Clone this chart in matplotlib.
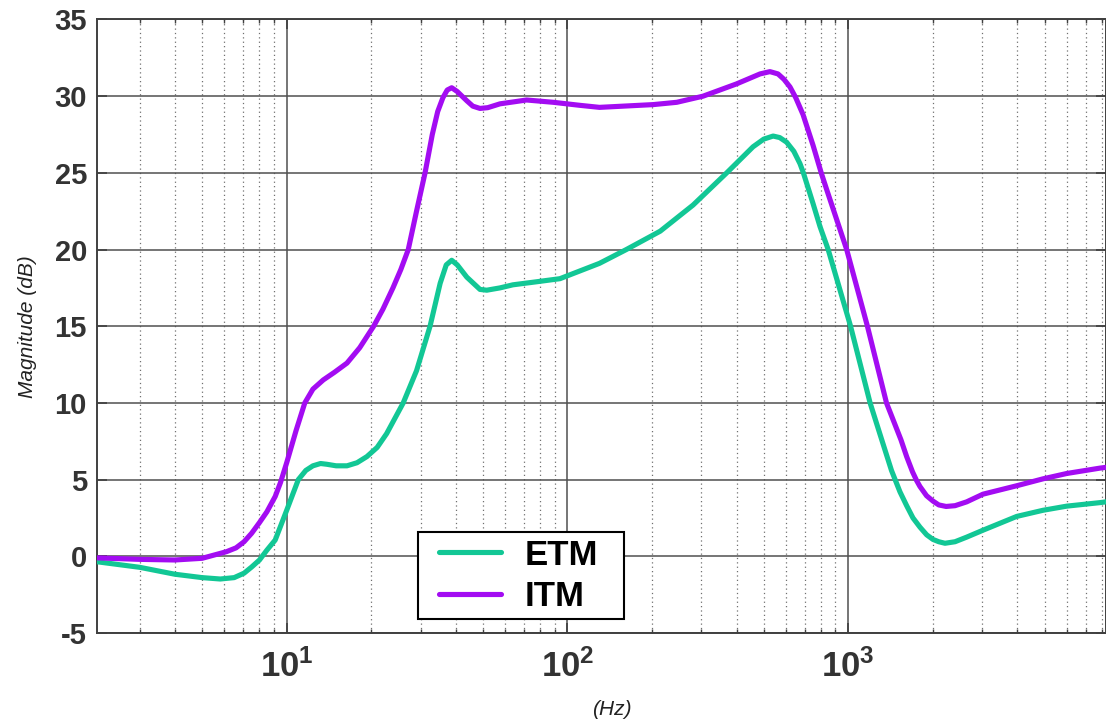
import math

import matplotlib
matplotlib.use("Agg")
from matplotlib import pyplot as plt
from matplotlib import ticker
from matplotlib.patches import Rectangle

# values
etm_freq = [2.1, 3.0, 4.0, 5.0, 5.8, 6.5, 7.05, 7.5, 8.0, 8.5, 9.1, 10.0,
            11.0, 11.7, 12.4, 13.2, 13.9, 15.0, 16.4, 17.8, 19.3, 21.0, 22.7,
            26.0, 29.0, 32.4, 35.2, 37.0, 38.7, 40.5, 43.8, 48.8, 51.6, 57.5,
            63.9, 77.7, 94.0, 130, 162, 214, 280, 369, 458, 500, 540, 570,
            603, 640, 673, 692, 749, 793, 848, 1019, 1196, 1300, 1425, 1528,
            1614, 1700, 1800, 1902, 2003, 2100, 2210, 2400, 2640, 3017, 3979,
            4936, 5996, 7878, 8276]
etm_db = [-0.35, -0.72, -1.17, -1.39, -1.48, -1.39, -1.1, -0.7, -0.24, 0.4,
          1.06, 3.0, 5.0, 5.6, 5.9, 6.05, 6.0, 5.9, 5.9, 6.1, 6.5, 7.1, 8.0,
          10.0, 12.1, 15.0, 17.8, 19.0, 19.3, 19.0, 18.2, 17.4, 17.35, 17.5,
          17.7, 17.9, 18.1, 19.1, 20.0, 21.2, 22.9, 25.0, 26.7, 27.2, 27.4,
          27.3, 27.0, 26.4, 25.6, 25.0, 23.0, 21.5, 20.0, 15.0, 10.0, 7.9,
          5.6, 4.2, 3.3, 2.5, 1.9, 1.4, 1.1, 0.95, 0.85, 0.95, 1.25, 1.7,
          2.6, 3.0, 3.27, 3.5, 3.55]

itm_freq = [2.1, 3.0, 4.0, 5.0, 6.1, 6.6, 7.05, 7.5, 8.0, 8.5, 9.1, 9.5,
            10.0, 10.8, 11.6, 12.4, 13.5, 14.8, 16.4, 18.2, 20.4, 22.0, 23.9,
            25.5, 27.1, 29.0, 31.1, 33.0, 34.5, 36.0, 37.3, 38.7, 40.5, 43.8,
            46.0, 48.8, 52.0, 57.5, 71.5, 89.0, 111, 130, 202, 245, 304, 400,
            485, 526, 562, 590, 620, 650, 690, 749, 801, 838, 987, 1170, 1368,
            1540, 1614, 1694, 1750, 1800, 1900, 2003, 2100, 2230, 2400, 2640,
            3017, 3979, 4936, 6000, 7878, 8276]
itm_db = [-0.1, -0.2, -0.24, -0.13, 0.3, 0.55, 0.95, 1.5, 2.2, 2.9, 3.9,
          4.8, 6.1, 8.2, 10.0, 10.9, 11.5, 12.0, 12.6, 13.6, 15.0, 16.1,
          17.5, 18.7, 20.0, 22.5, 25.0, 27.5, 29.0, 29.9, 30.4, 30.55, 30.3,
          29.7, 29.35, 29.2, 29.25, 29.5, 29.75, 29.6, 29.4, 29.27, 29.45,
          29.6, 30.0, 30.8, 31.45, 31.6, 31.45, 31.1, 30.6, 29.9, 28.8, 26.8,
          25.0, 23.9, 20.0, 15.0, 10.0, 7.6, 6.5, 5.5, 4.95, 4.55, 3.95, 3.6,
          3.35, 3.25, 3.3, 3.55, 4.05, 4.6, 5.05, 5.4, 5.75, 5.8]

series_names = ["ETM", "ITM"]
series_colors = ["#12c795", "#a30cf2"]

plt.rcParams["font.family"] = ["Liberation Sans", "DejaVu Sans"]
plt.rcParams["axes.unicode_minus"] = False
plt.rcParams["mathtext.fontset"] = "custom"
plt.rcParams["mathtext.rm"] = "Liberation Sans:bold"
plt.rcParams["mathtext.bf"] = "Liberation Sans:bold"
plt.rcParams["mathtext.it"] = "Liberation Sans:italic:bold"

fig = plt.figure(figsize=(11.06, 7.24), dpi=100)
ax = fig.add_axes([0.0874, 0.1257, 0.9126, 0.8474])

for freq, db, name, col in zip([etm_freq, itm_freq], [etm_db, itm_db],
                               series_names, series_colors):
  ax.semilogx(freq, db, color=col, lw=3.7, label=name,
              solid_capstyle="round", solid_joinstyle="round", zorder=3)

ax.set_xlim(2.105, 8276)
ax.set_ylim(-5, 35)
ax.set_yticks(range(-5, 36, 5))
ax.xaxis.set_major_locator(ticker.FixedLocator([10, 100, 1000]))
ax.xaxis.set_major_formatter(ticker.FuncFormatter(
  lambda v, pos: r"$\mathbf{10^{%d}}$" % round(math.log10(v))))
ax.xaxis.set_minor_locator(ticker.LogLocator(base=10, subs=range(2, 10), numticks=20))
ax.xaxis.set_minor_formatter(ticker.NullFormatter())

ax.grid(which="major", axis="both", color="#505050", lw=1.1, ls="-")
ax.grid(which="minor", axis="x", color="#707070", lw=0.9, ls=(0, (1, 2.5)))
ax.set_axisbelow(True)

ax.tick_params(which="both", direction="in", top=True, right=True,
               color="#404040")
ax.tick_params(which="major", length=7, width=1.2)
ax.tick_params(which="minor", length=3, width=1.0)
ax.tick_params(axis="y", labelsize=21, pad=7, labelcolor="#333333")
ax.tick_params(axis="x", labelsize=25, pad=12, labelcolor="#333333")
for lab in ax.get_yticklabels():
  lab.set_fontweight("bold")

for sp in ax.spines.values():
  sp.set_color("#404040")
  sp.set_linewidth(1.4)

ax.set_ylabel("Magnitude (dB)", fontsize=15, style="italic", color="#222222")
ax.yaxis.set_label_coords(-0.059, 0.5)
ax.set_xlabel("(Hz)", fontsize=15, style="italic", color="#222222")
ax.xaxis.set_label_coords(0.5106, -0.11)

# legend box: a plain frame, entries placed inside it
ax.add_patch(Rectangle((0.318, 0.0228), 0.204, 0.1418, transform=ax.transAxes,
                       facecolor="white", edgecolor="black", lw=1.5, zorder=4))
leg = ax.legend(loc="center left", bbox_to_anchor=(0.339, 0.093),
                prop={"weight": "bold", "size": 25}, frameon=False,
                handlelength=1.8, handletextpad=0.66, labelspacing=0.25,
                borderpad=0, borderaxespad=0)
leg.set_zorder(5)

fig.savefig("out.png", dpi=100)
